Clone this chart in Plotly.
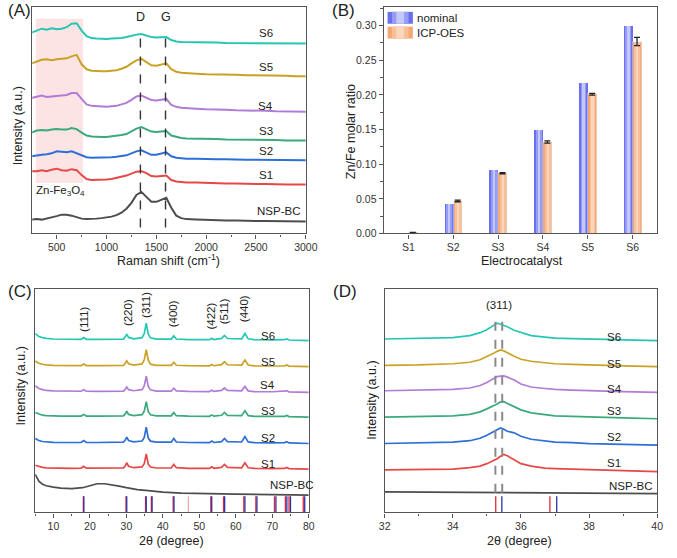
import plotly.graph_objects as go

W, H = 677, 558
FONT = "Liberation Sans, Arial, sans-serif"
AX = "#555555"
TXT = "#222222"

# ---------------- Panel A: Raman ----------------
raman_x = [250, 300, 350, 400, 450, 500, 550, 600, 650, 700, 750, 800, 850, 900, 950, 1000,
           1050, 1100, 1150, 1200, 1250, 1300, 1350, 1400, 1450, 1500, 1550, 1600, 1650, 1700,
           1750, 1800, 1900, 2000, 2100, 2200, 2300, 2400, 2500, 2600, 2700, 2800, 2900, 3000]
raman_nspbc = [14, 14.5, 14, 15, 16, 17.5, 19, 19, 18, 16.5, 15, 14.5, 14.5, 15, 15.5, 16,
               17, 18.5, 21, 25, 31, 39, 42, 37, 32, 32, 34, 36, 26, 18,
               15.5, 14.5, 14, 13.5, 13.5, 13, 13, 12.5, 12.5, 12.5, 12.5, 12, 12, 12]
raman_s1 = [63, 63, 64, 63, 64.5, 65.5, 64, 63.5, 65, 64, 59, 55, 54, 54, 54.5, 54.5,
            55, 56, 57, 58.5, 60.5, 62.5, 63, 61, 58, 57.5, 58, 58.5, 54, 52.5,
            52, 51.5, 51.5, 51, 51, 50.5, 50.5, 50, 50, 50, 49.5, 49.5, 49.5, 49.5]
raman_s2 = [78, 79, 79.5, 80, 81, 83, 82.5, 82, 83, 81, 78.5, 77, 76.5, 76.5, 76.5, 77,
            77, 77.5, 78, 79, 81, 83, 84, 82, 79.5, 79.5, 81, 82, 78, 76.5,
            76, 75.5, 75.5, 75, 75, 75, 74.5, 74.5, 74.5, 74.5, 74, 74, 74, 74]
raman_s3 = [102, 104, 104.5, 104, 105, 105.5, 105, 105, 106.5, 105.5, 102, 99, 98, 97.5, 97.5, 97.5,
            98, 98.5, 99.5, 100.5, 103, 106, 107.5, 105, 103, 102.5, 103, 103.5, 99, 97.5,
            96.5, 96, 96, 95.5, 95.5, 95, 95, 95, 94.5, 94.5, 94.5, 94, 94, 94]
raman_s4 = [137, 138, 139.5, 138, 138.5, 139, 139.5, 140, 142, 142, 136, 130.5, 129, 128.5, 128, 128,
            128.5, 129, 130.5, 132, 135, 138.5, 139.5, 137.5, 135, 134.5, 135, 136, 130, 128,
            127, 126.5, 126, 125.5, 125.5, 125, 124.5, 124.5, 124, 124, 123.5, 123.5, 123, 123]
raman_s5 = [172, 174, 175.5, 176, 175, 176, 176.5, 177, 179, 180.5, 171, 166, 164.5, 164, 164, 164,
            164.5, 165, 166.5, 168.5, 172, 175, 176.5, 173.5, 170, 169.5, 170.5, 172, 166, 163.5,
            162.5, 162, 161.5, 161, 161, 160.5, 160.5, 160, 160, 160, 159.5, 159.5, 159, 159]
raman_s6 = [203, 205, 207, 206, 207.5, 206.5, 207, 208.5, 212, 212.5, 205, 199.5, 197.5, 197, 196.5, 196.5,
            197, 197, 197.5, 198.5, 200, 201, 201.5, 200, 198.5, 198, 198.5, 198.5, 195.5, 194,
            193.5, 193.5, 193, 193, 193, 192.5, 192.5, 192.5, 192.5, 192, 192, 192, 192, 192]
raman_D, raman_G = 1340, 1592

samples = ["NSP-BC", "S1", "S2", "S3", "S4", "S5", "S6"]
colors = ["#4d4d4d", "#e64848", "#2d6fd6", "#3aa97b", "#b27cd6", "#c9a225", "#26c6b4"]

# ---------------- Panel B: bars ----------------
categories = ["S1", "S2", "S3", "S4", "S5", "S6"]
nominal = [0.0, 0.043, 0.092, 0.150, 0.218, 0.300]
icp = [0.001, 0.047, 0.087, 0.132, 0.201, 0.277]
icp_err = [0.0005, 0.0012, 0.0008, 0.0016, 0.0012, 0.0060]

# ---------------- Panel C: XRD wide ----------------
xrd_x = [5, 6, 7, 8, 10, 12, 15, 17.6, 18.3, 19.0, 22, 29.2, 29.7, 30.1, 30.6, 32, 34.3, 34.9,
         35.45, 36.0, 36.6, 37.1, 38.2, 42.3, 43.0, 43.7, 47, 52.8, 53.4, 54.0, 56.1, 56.9, 57.7,
         61.6, 62.5, 63.4, 65, 70, 73.4, 74.0, 74.6, 80]
xrd_s1 = [4, 2.5, 1.8, 1.3, 1.0, 0.9, 0.9, 1.0, 3.0, 1.0, 0.9, 1.2, 3.5, 6.5, 3.0, 1.5, 2.3, 5.5,
          15.5, 5.0, 2.2, 2.0, 1.2, 1.2, 4.8, 1.5, 0.9, 0.8, 2.5, 0.9, 1.8, 4.8, 1.8,
          1.4, 6.5, 1.5, 0.8, 0.6, 0.8, 1.8, 0.6, 0]
xrd_s2 = [5, 3, 2, 1.5, 1.1, 1.0, 1.0, 1.1, 3.0, 1.1, 1.0, 1.3, 3.5, 6.5, 3.0, 1.6, 2.5, 6.0,
          16.5, 5.5, 2.4, 2.1, 1.3, 1.3, 5.0, 1.5, 1.0, 0.9, 2.4, 1.0, 1.9, 5.0, 1.9,
          1.5, 7.0, 1.6, 0.9, 0.7, 0.9, 1.8, 0.6, 0]
xrd_s3 = [4.7, 3, 2, 1.5, 1.1, 1.0, 1.0, 1.1, 2.8, 1.1, 1.0, 1.3, 3.3, 6.0, 2.8, 1.6, 2.5, 6.0,
          15.7, 5.5, 2.4, 2.1, 1.3, 1.3, 4.6, 1.5, 1.0, 0.9, 2.3, 1.0, 1.9, 4.8, 1.9,
          1.5, 6.5, 1.6, 0.9, 0.7, 0.9, 1.7, 0.6, 0]
xrd_s4 = [6.7, 4, 2.8, 2, 1.5, 1.3, 1.2, 1.2, 2.8, 1.2, 1.1, 1.4, 3.2, 5.5, 2.8, 1.7, 2.8, 6.5,
          16.5, 6.0, 2.6, 2.2, 1.4, 1.4, 4.3, 1.5, 1.0, 0.9, 2.2, 1.0, 2.0, 4.5, 2.0,
          1.6, 6.0, 1.6, 0.9, 0.7, 0.9, 1.6, 0.6, 0]
xrd_s5 = [5.7, 3.5, 2.5, 1.8, 1.3, 1.2, 1.1, 1.2, 2.7, 1.2, 1.1, 1.4, 3.5, 6.0, 3.0, 1.7, 2.8, 7.0,
          17.3, 6.5, 2.6, 2.2, 1.4, 1.4, 4.5, 1.5, 1.0, 0.9, 2.3, 1.0, 2.1, 5.0, 2.0,
          1.6, 6.8, 1.7, 0.9, 0.7, 0.9, 1.7, 0.6, 0]
xrd_s6 = [7, 4.2, 3, 2.2, 1.6, 1.4, 1.2, 1.3, 3.0, 1.3, 1.2, 1.5, 3.8, 6.5, 3.2, 1.8, 3.0, 7.0,
          17.7, 6.5, 2.8, 2.3, 1.5, 1.5, 4.8, 1.6, 1.0, 0.9, 2.4, 1.0, 2.2, 5.2, 2.1,
          1.7, 7.2, 1.8, 0.9, 0.7, 0.9, 1.7, 0.6, 0]
xrd_bc_x = [5, 5.5, 6, 7, 8, 10, 12, 15, 18, 20, 22, 24, 26, 28, 30, 33, 36, 40, 45, 50, 60, 70, 80]
xrd_bc = [21, 17, 14, 11, 9.5, 8, 7, 6.5, 7.5, 9.5, 11.5, 11.5, 10.5, 9, 7.5, 5.5, 4.5, 3, 2, 1.5, 1, 0.5, 0]
xrd_offsets = [17.5, 43.7, 69.7, 96.3, 121.3, 147.3, 173.7]

hkl_labels = ["(111)", "(220)", "(311)", "(400)", "(422)", "(511)", "(440)"]
hkl_pos = [18.3, 30.3, 35.4, 42.8, 53.1, 57.0, 62.3]
hkl_base = [180.7, 186.3, 194.7, 184.7, 183, 188, 190]

ref_znfe2o4 = [18.2, 29.9, 35.26, 36.85, 42.84, 53.15, 56.65, 62.2, 65.5, 70.6, 73.6, 74.6, 78.5]
ref_fe3o4 = [18.35, 30.1, 35.44, 37.05, 43.05, 53.4, 56.95, 62.5, 65.8, 71.0, 74.0, 75.0, 78.9]
ref_weak = [47.0]
stick_h = 16.3

# ---------------- Panel D: XRD zoom (311) ----------------
zoom_x = [32, 33, 34, 34.5, 34.8, 35.0, 35.2, 35.3, 35.4, 35.5, 35.6, 35.8, 36.0, 36.3, 36.7,
          37.0, 37.5, 38, 39, 40]
zoom_s1 = [1.7, 1.8, 2.5, 4, 5.5, 8, 11, 13, 15.5, 17.4, 16, 12, 8, 5.5, 3.5, 3.0, 2.5, 1.8, 1, 0]
zoom_s2 = [1.7, 2, 3, 4.5, 7, 10, 13.5, 15.5, 17.3, 16, 14, 12.5, 9, 6, 4, 3, 2.5, 1.5, 0.8, 0]
zoom_s3 = [1.6, 2, 3, 4.5, 7, 10, 13, 15, 17, 17.3, 15.5, 12.5, 9, 6, 4, 3, 2.3, 1.6, 0.8, 0]
zoom_s4 = [1.7, 2, 3, 4.5, 7, 10, 14.5, 16, 16.5, 16.7, 15.5, 12.5, 8.5, 5.5, 4, 3, 2.3, 1.6, 0.8, 0]
zoom_s5 = [1.4, 1.8, 3, 4.5, 7, 10, 13.5, 15.5, 17, 16, 14, 10.5, 7.5, 5.5, 4, 3, 2.3, 1.6, 0.8, 0]
zoom_s6 = [1.6, 2, 3, 5, 8, 11, 16, 17.7, 16.5, 15.5, 14, 10.5, 8, 5, 3.5, 2.5, 2, 1.5, 0.8, 0]
zoom_bc_x = [32, 33, 34, 35, 36, 37, 38, 39, 40]
zoom_bc = [1.7, 1.4, 1.2, 1.0, 0.8, 0.6, 0.3, 0.2, 0]
zoom_offsets = [19, 41.3, 68, 94.7, 121.3, 147.3, 173.7]
dash_311 = [35.25, 35.45]


def dom_x(l, r):
    return [l / W, r / W]


def dom_y(t, b):
    return [1 - b / H, 1 - t / H]


def sticks(pos, h):
    xs, ys = [], []
    for p in pos:
        xs += [p, p, None]
        ys += [0, h, None]
    return xs, ys


fig = go.Figure()

raman_all = [raman_nspbc, raman_s1, raman_s2, raman_s3, raman_s4, raman_s5, raman_s6]
for name, col, ys in zip(samples, colors, raman_all):
    fig.add_trace(go.Scatter(x=raman_x, y=ys, mode="lines", line=dict(color=col, width=2),
                             xaxis="x", yaxis="y", showlegend=False, name=name))

layers_nom = [(-0.2, 0.2, "rgb(105,112,240)"), (-0.165, 0.13, "rgb(150,156,244)"),
              (-0.125, 0.05, "rgb(196,200,248)")]
layers_icp = [(0.0, 0.2, "rgb(244,168,118)"), (0.035, 0.13, "rgb(247,192,152)"),
              (0.075, 0.05, "rgb(250,214,186)")]
for off, wd, col in layers_nom:
    fig.add_trace(go.Bar(x=categories, y=nominal, offset=off, width=wd, marker=dict(color=col, line=dict(width=0)),
                         xaxis="x2", yaxis="y2", showlegend=False, name="nominal"))
for off, wd, col in layers_icp:
    fig.add_trace(go.Bar(x=categories, y=icp, offset=off, width=wd, marker=dict(color=col, line=dict(width=0)),
                         xaxis="x2", yaxis="y2", showlegend=False, name="ICP-OES"))
fig.add_trace(go.Bar(x=categories, y=icp, offset=0.0, width=0.2, marker=dict(color="rgba(0,0,0,0)"),
                     error_y=dict(type="data", array=icp_err, color="#222", thickness=1.3, width=3),
                     xaxis="x2", yaxis="y2", showlegend=False, name="ICP-OES err"))

xrd_all = [xrd_bc, xrd_s1, xrd_s2, xrd_s3, xrd_s4, xrd_s5, xrd_s6]
for k, (name, col, ys) in enumerate(zip(samples, colors, xrd_all)):
    xs = xrd_bc_x if k == 0 else xrd_x
    fig.add_trace(go.Scatter(x=xs, y=[v + xrd_offsets[k] for v in ys], mode="lines",
                             line=dict(color=col, width=1.7), xaxis="x3", yaxis="y3",
                             showlegend=False, name=name))
for pos, col, ax in [(ref_weak, "rgb(236,170,175)", "3"), (ref_znfe2o4, "rgb(220,40,60)", "3"),
                     (ref_fe3o4, "rgb(45,50,165)", "3"),
                     (ref_znfe2o4, "rgb(220,40,60)", "4"), (ref_fe3o4, "rgb(45,50,165)", "4")]:
    sx, sy = sticks(pos, stick_h)
    fig.add_trace(go.Scatter(x=sx, y=sy, mode="lines", line=dict(color=col, width=1.3),
                             xaxis="x" + ax, yaxis="y" + ax, showlegend=False, hoverinfo="skip"))

zoom_all = [zoom_bc, zoom_s1, zoom_s2, zoom_s3, zoom_s4, zoom_s5, zoom_s6]
for k, (name, col, ys) in enumerate(zip(samples, colors, zoom_all)):
    xs = zoom_bc_x if k == 0 else zoom_x
    fig.add_trace(go.Scatter(x=xs, y=[v + zoom_offsets[k] for v in ys], mode="lines",
                             line=dict(color=col, width=1.7), xaxis="x4", yaxis="y4",
                             showlegend=False, name=name))

axis_common = dict(showline=True, mirror=True, linecolor=AX, linewidth=1.2, showgrid=False,
                   zeroline=False, tickfont=dict(family=FONT, size=10.5, color="#333"),
                   tickcolor=AX, ticklen=4, ticks="outside")
noticks = dict(showline=True, mirror=True, linecolor=AX, linewidth=1.2, showgrid=False,
               zeroline=False, showticklabels=False, ticks="")

fig.update_layout(
    width=W, height=H, margin=dict(l=0, r=0, t=0, b=0),
    paper_bgcolor="white", plot_bgcolor="white", barmode="overlay", bargap=0,
    font=dict(family=FONT, color=TXT),
    xaxis=dict(domain=dom_x(27, 308), range=[255, 3000], dtick=500, tick0=0, anchor="y",
               minor=dict(ticks="outside", dtick=250, ticklen=2.5, tickcolor=AX), **axis_common),
    yaxis=dict(domain=dom_y(7, 236), range=[0, 229], anchor="x", **noticks),
    xaxis2=dict(domain=dom_x(388, 669), range=[-0.55, 5.55], type="category", anchor="y2", **axis_common),
    yaxis2=dict(domain=dom_y(7, 236), range=[0, 0.327], dtick=0.05, tick0=0, tickformat=".2f", anchor="x2",
                minor=dict(ticks="outside", dtick=0.025, ticklen=2.5, tickcolor=AX), **axis_common),
    xaxis3=dict(domain=dom_x(30, 311), range=[5, 80], dtick=10, tick0=0, anchor="y3",
                minor=dict(ticks="outside", dtick=5, ticklen=2.5, tickcolor=AX), **axis_common),
    yaxis3=dict(domain=dom_y(292, 518), range=[0, 226], anchor="x3", **noticks),
    xaxis4=dict(domain=dom_x(389, 669), range=[32, 40], dtick=2, tick0=0, anchor="y4",
                minor=dict(ticks="outside", dtick=1, ticklen=2.5, tickcolor=AX), **axis_common),
    yaxis4=dict(domain=dom_y(292, 518), range=[0, 226], anchor="x4", **noticks),
)

shapes = []
shapes.append(dict(type="rect", xref="x", yref="y", x0=290, x1=765, y0=51, y1=217,
                   fillcolor="rgba(250,205,205,0.55)", line=dict(width=0), layer="below"))
for xv in [raman_D, raman_G]:
    shapes.append(dict(type="line", xref="x", yref="y", x0=xv, x1=xv, y0=6, y1=206,
                       line=dict(color="#333", width=1.4, dash="dash")))
for xv in dash_311:
    shapes.append(dict(type="line", xref="x4", yref="y4", x0=xv, x1=xv, y0=20, y1=201,
                       line=dict(color="#8a8a8a", width=2, dash="dash")))
for (y0, y1, lay) in [(12, 24, layers_nom), (27, 39, layers_icp)]:
    boxes = [(392, 418), (396.5, 413.5), (401, 409)]
    for (bx0, bx1), (_, _, col) in zip(boxes, lay):
        shapes.append(dict(type="rect", xref="paper", yref="paper", x0=bx0 / W, x1=bx1 / W,
                           y0=1 - y1 / H, y1=1 - y0 / H, fillcolor=col, line=dict(width=0)))
fig.update_layout(shapes=shapes)

ann = []


def A(x, y, text, xref="paper", yref="paper", size=11.5, xanchor="center", yanchor="middle", angle=0):
    if xref == "paper":
        x = x / W
    if yref == "paper":
        y = 1 - y / H
    ann.append(dict(x=x, y=y, xref=xref, yref=yref, text=text, showarrow=False, xanchor=xanchor,
                    yanchor=yanchor, textangle=angle, font=dict(family=FONT, size=size, color=TXT)))


A(0, 11, "(A)", size=17, xanchor="left")
A(333, 11, "(B)", size=17, xanchor="left")
A(0, 295, "(C)", size=17, xanchor="left")
A(334, 295, "(D)", size=17, xanchor="left")

A(167, 263, "Raman shift (cm<sup>-1</sup>)", size=12.5)
A(12, 127, "Intensity (a.u.)", size=12.5, angle=-90)
A(530, 264, "Electrocatalyst", size=12.5)
A(354, 133, "Zn/Fe molar ratio", size=12.5, angle=-90)
A(170, 547, "2θ (degree)", size=12.5)
A(15, 390, "Intensity (a.u.)", size=12.5, angle=-90)
A(528, 547, "2θ (degree)", size=12.5)
A(376, 405, "Intensity (a.u.)", size=12.5, angle=-90)

A(420, 18, "nominal", size=11.5, xanchor="left")
A(420, 33, "ICP-OES", size=11.5, xanchor="left")

a_label_y = [23, 59, 83, 104, 129, 168, 203]
for k, name in enumerate(samples):
    A(2727 if k == 0 else 2600, a_label_y[k], name, xref="x", yref="y")
A(268, 42.7, "Zn-Fe<sub>3</sub>O<sub>4</sub>", xref="x", yref="y", xanchor="left")
A(raman_D, 219.3, "D", xref="x", yref="y", size=12.5)
A(raman_G, 219.3, "G", xref="x", yref="y", size=12.5)

c_label_y = [27.3, 48.7, 75.3, 103, 128.7, 152, 178.7]
for k, name in enumerate(samples):
    A(75.3 if k == 0 else 68.8, c_label_y[k], name, xref="x3", yref="y3")
for lab, p, b in zip(hkl_labels, hkl_pos, hkl_base):
    A(p, b, lab, xref="x3", yref="y3", angle=-90, yanchor="bottom")

d_label_y = [26.3, 49.7, 76.3, 103, 124.7, 150.3, 177]
for k, name in enumerate(samples):
    A(39.22 if k == 0 else 38.74, d_label_y[k], name, xref="x4", yref="y4")
A(35.36, 209.7, "(311)", xref="x4", yref="y4")

fig.update_layout(annotations=ann)
fig.write_html("out.html")
